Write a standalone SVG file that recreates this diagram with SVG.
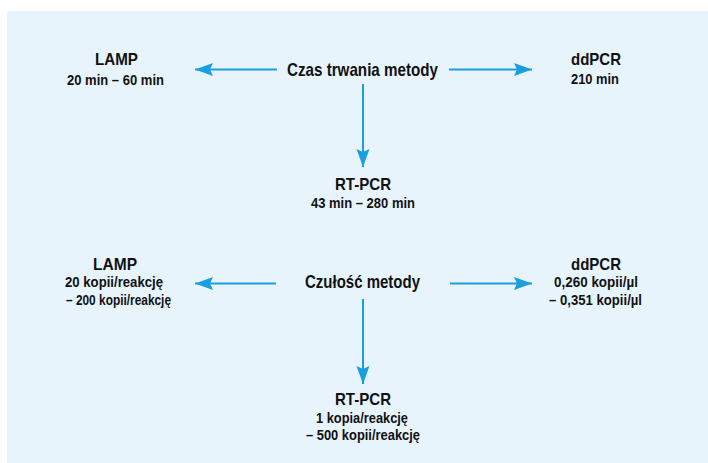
<svg xmlns="http://www.w3.org/2000/svg" width="708" height="463" viewBox="0 0 708 463">
<defs>
<style>
.t{font-family:"Liberation Sans",Arial,sans-serif;font-weight:bold;fill:#111;text-anchor:middle}
.h{font-size:17px}
.s{font-size:15.5px}
.c{font-size:19px}
.ln{stroke:#1a9ee0;stroke-width:2;fill:none}
</style>
<marker id="ah" markerUnits="userSpaceOnUse" markerWidth="19" markerHeight="14" refX="18" refY="6.5" orient="auto">
<path d="M0,0 L18,6.5 L0,13 L3,6.5 Z" fill="#1a9ee0"/>
</marker>
</defs>
<rect x="7" y="11" width="701" height="452" fill="#e8f4fc"/>
<g id="connectors">
<line class="ln" x1="277" y1="69.5" x2="195" y2="69.5" marker-end="url(#ah)"/>
<line class="ln" x1="449" y1="69.5" x2="532" y2="69.5" marker-end="url(#ah)"/>
<line class="ln" x1="363" y1="84" x2="363" y2="167" marker-end="url(#ah)"/>
<line class="ln" x1="276" y1="283.5" x2="195" y2="283.5" marker-end="url(#ah)"/>
<line class="ln" x1="450" y1="283.5" x2="532" y2="283.5" marker-end="url(#ah)"/>
<line class="ln" x1="363" y1="299" x2="363" y2="384" marker-end="url(#ah)"/>
</g>
<g id="czas">
<text class="t c" x="362.5" y="76" textLength="151" lengthAdjust="spacingAndGlyphs">Czas trwania metody</text>
</g>
<g id="lamp1">
<text class="t h" x="116.5" y="65" textLength="43" lengthAdjust="spacingAndGlyphs">LAMP</text>
<text class="t s" x="115.5" y="85" textLength="97" lengthAdjust="spacingAndGlyphs">20 min – 60 min</text>
</g>
<g id="ddpcr1">
<text class="t h" x="596" y="65" textLength="50" lengthAdjust="spacingAndGlyphs">ddPCR</text>
<text class="t s" x="595" y="84" textLength="48" lengthAdjust="spacingAndGlyphs">210 min</text>
</g>
<g id="rtpcr1">
<text class="t h" x="363" y="190" textLength="56" lengthAdjust="spacingAndGlyphs">RT-PCR</text>
<text class="t s" x="363" y="208" textLength="104" lengthAdjust="spacingAndGlyphs">43 min – 280 min</text>
</g>
<g id="czulosc">
<text class="t c" x="362.5" y="288" textLength="115" lengthAdjust="spacingAndGlyphs">Czułość metody</text>
</g>
<g id="lamp2">
<text class="t h" x="115" y="270" textLength="44" lengthAdjust="spacingAndGlyphs">LAMP</text>
<text class="t s" x="114" y="287" textLength="98" lengthAdjust="spacingAndGlyphs">20 kopii/reakcję</text>
<text class="t s" x="118.5" y="305" textLength="105" lengthAdjust="spacingAndGlyphs">– 200 kopii/reakcję</text>
</g>
<g id="ddpcr2">
<text class="t h" x="596" y="270" textLength="50" lengthAdjust="spacingAndGlyphs">ddPCR</text>
<text class="t s" x="596" y="287" textLength="84" lengthAdjust="spacingAndGlyphs">0,260 kopii/µl</text>
<text class="t s" x="595.5" y="305" textLength="93" lengthAdjust="spacingAndGlyphs">– 0,351 kopii/µl</text>
</g>
<g id="rtpcr2">
<text class="t h" x="363" y="405" textLength="56" lengthAdjust="spacingAndGlyphs">RT-PCR</text>
<text class="t s" x="362" y="423" textLength="92" lengthAdjust="spacingAndGlyphs">1 kopia/reakcję</text>
<text class="t s" x="363" y="440" textLength="114" lengthAdjust="spacingAndGlyphs">– 500 kopii/reakcję</text>
</g>
</svg>
